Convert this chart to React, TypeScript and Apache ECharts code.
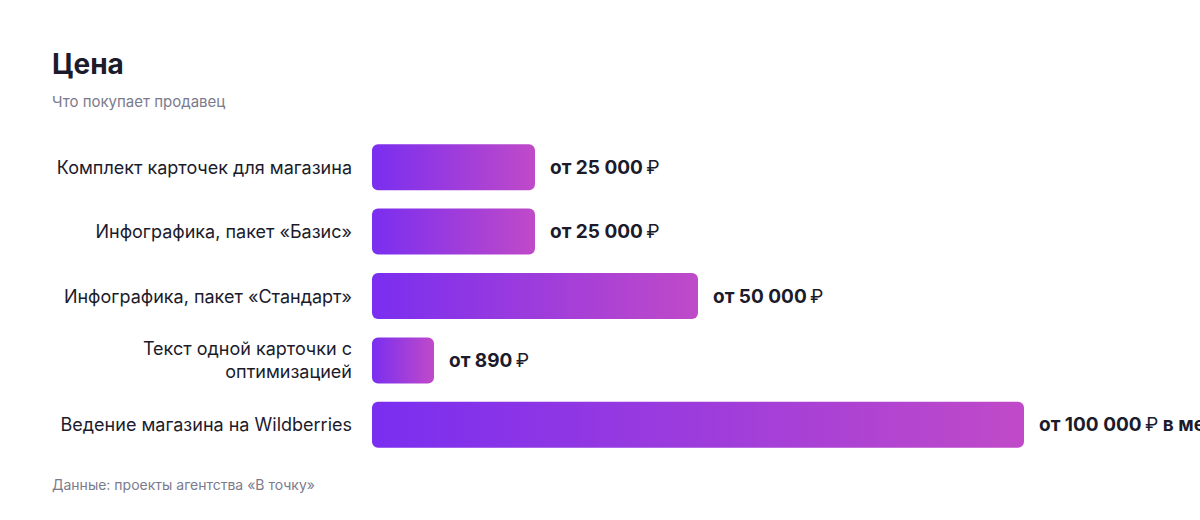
import { useEffect, useRef } from 'react';
import * as echarts from 'echarts';

const categories = [
  'Комплект карточек для магазина',
  'Инфографика, пакет «Базис»',
  'Инфографика, пакет «Стандарт»',
  'Текст одной карточки с\nоптимизацией',
  'Ведение магазина на Wildberries',
];
const prices = [25000, 25000, 50000, 890, 100000];
const suffixes = ['', '', '', '', ' в месяц'];

const FONT = 'Inter, "Noto Sans", sans-serif';
const DARK = '#1b1b2c';
const GREY = '#7b7b8d';

const fmt = (v: number) => String(v).replace(/\B(?=(\d{3})+(?!\d))/g, ' ');

export default function App() {
  const chartRef = useRef<HTMLDivElement>(null);

  useEffect(() => {
    document.body.style.margin = '0';
    if (!chartRef.current) return;
    const chart = echarts.init(chartRef.current, undefined, { renderer: 'svg' });

    chart.setOption({
      animation: false,
      title: [
        {
          text: 'Цена',
          left: 47,
          top: 45,
          textStyle: { fontFamily: FONT, fontSize: 28, fontWeight: 'bold', color: DARK },
        },
        {
          text: 'Что покупает продавец',
          left: 47,
          top: 89,
          textStyle: { fontFamily: FONT, fontSize: 15, fontWeight: 'normal', color: GREY },
        },
        {
          text: 'Данные: проекты агентства «В точку»',
          left: 47,
          top: 472,
          textStyle: { fontFamily: FONT, fontSize: 14, fontWeight: 'normal', color: GREY },
        },
      ],
      grid: { left: 372, right: 176, top: 135, bottom: 63 },
      xAxis: {
        type: 'value',
        min: 0,
        max: 100000,
        show: false,
      },
      yAxis: {
        type: 'category',
        data: categories,
        inverse: true,
        axisLine: { show: false },
        axisTick: { show: false },
        splitLine: { show: false },
        axisLabel: {
          margin: 20,
          fontFamily: FONT,
          fontSize: 18,
          color: DARK,
          lineHeight: 23,
          align: 'right',
        },
      },
      series: [
        {
          type: 'bar',
          data: prices.map((v, i) => ({ value: v, suffix: suffixes[i] })),
          barWidth: 46,
          barMinHeight: 62,
          itemStyle: {
            borderRadius: 6,
            color: new echarts.graphic.LinearGradient(0, 0, 1, 0, [
              { offset: 0, color: '#7a2ef0' },
              { offset: 1, color: '#c04ac8' },
            ]),
          },
          label: {
            show: true,
            position: 'right',
            distance: 15,
            formatter: (p: any) =>
              `{v|от ${fmt(p.value)}} {r|₽}{v|${p.data.suffix}}`,
            rich: {
              v: { fontFamily: FONT, fontSize: 19, fontWeight: 'bold', color: DARK },
              r: { fontFamily: FONT, fontSize: 19, fontWeight: 'normal', color: DARK },
            },
          },
        },
      ],
    });

    return () => chart.dispose();
  }, []);

  return <div ref={chartRef} style={{ width: 1200, height: 520 }} />;
}
